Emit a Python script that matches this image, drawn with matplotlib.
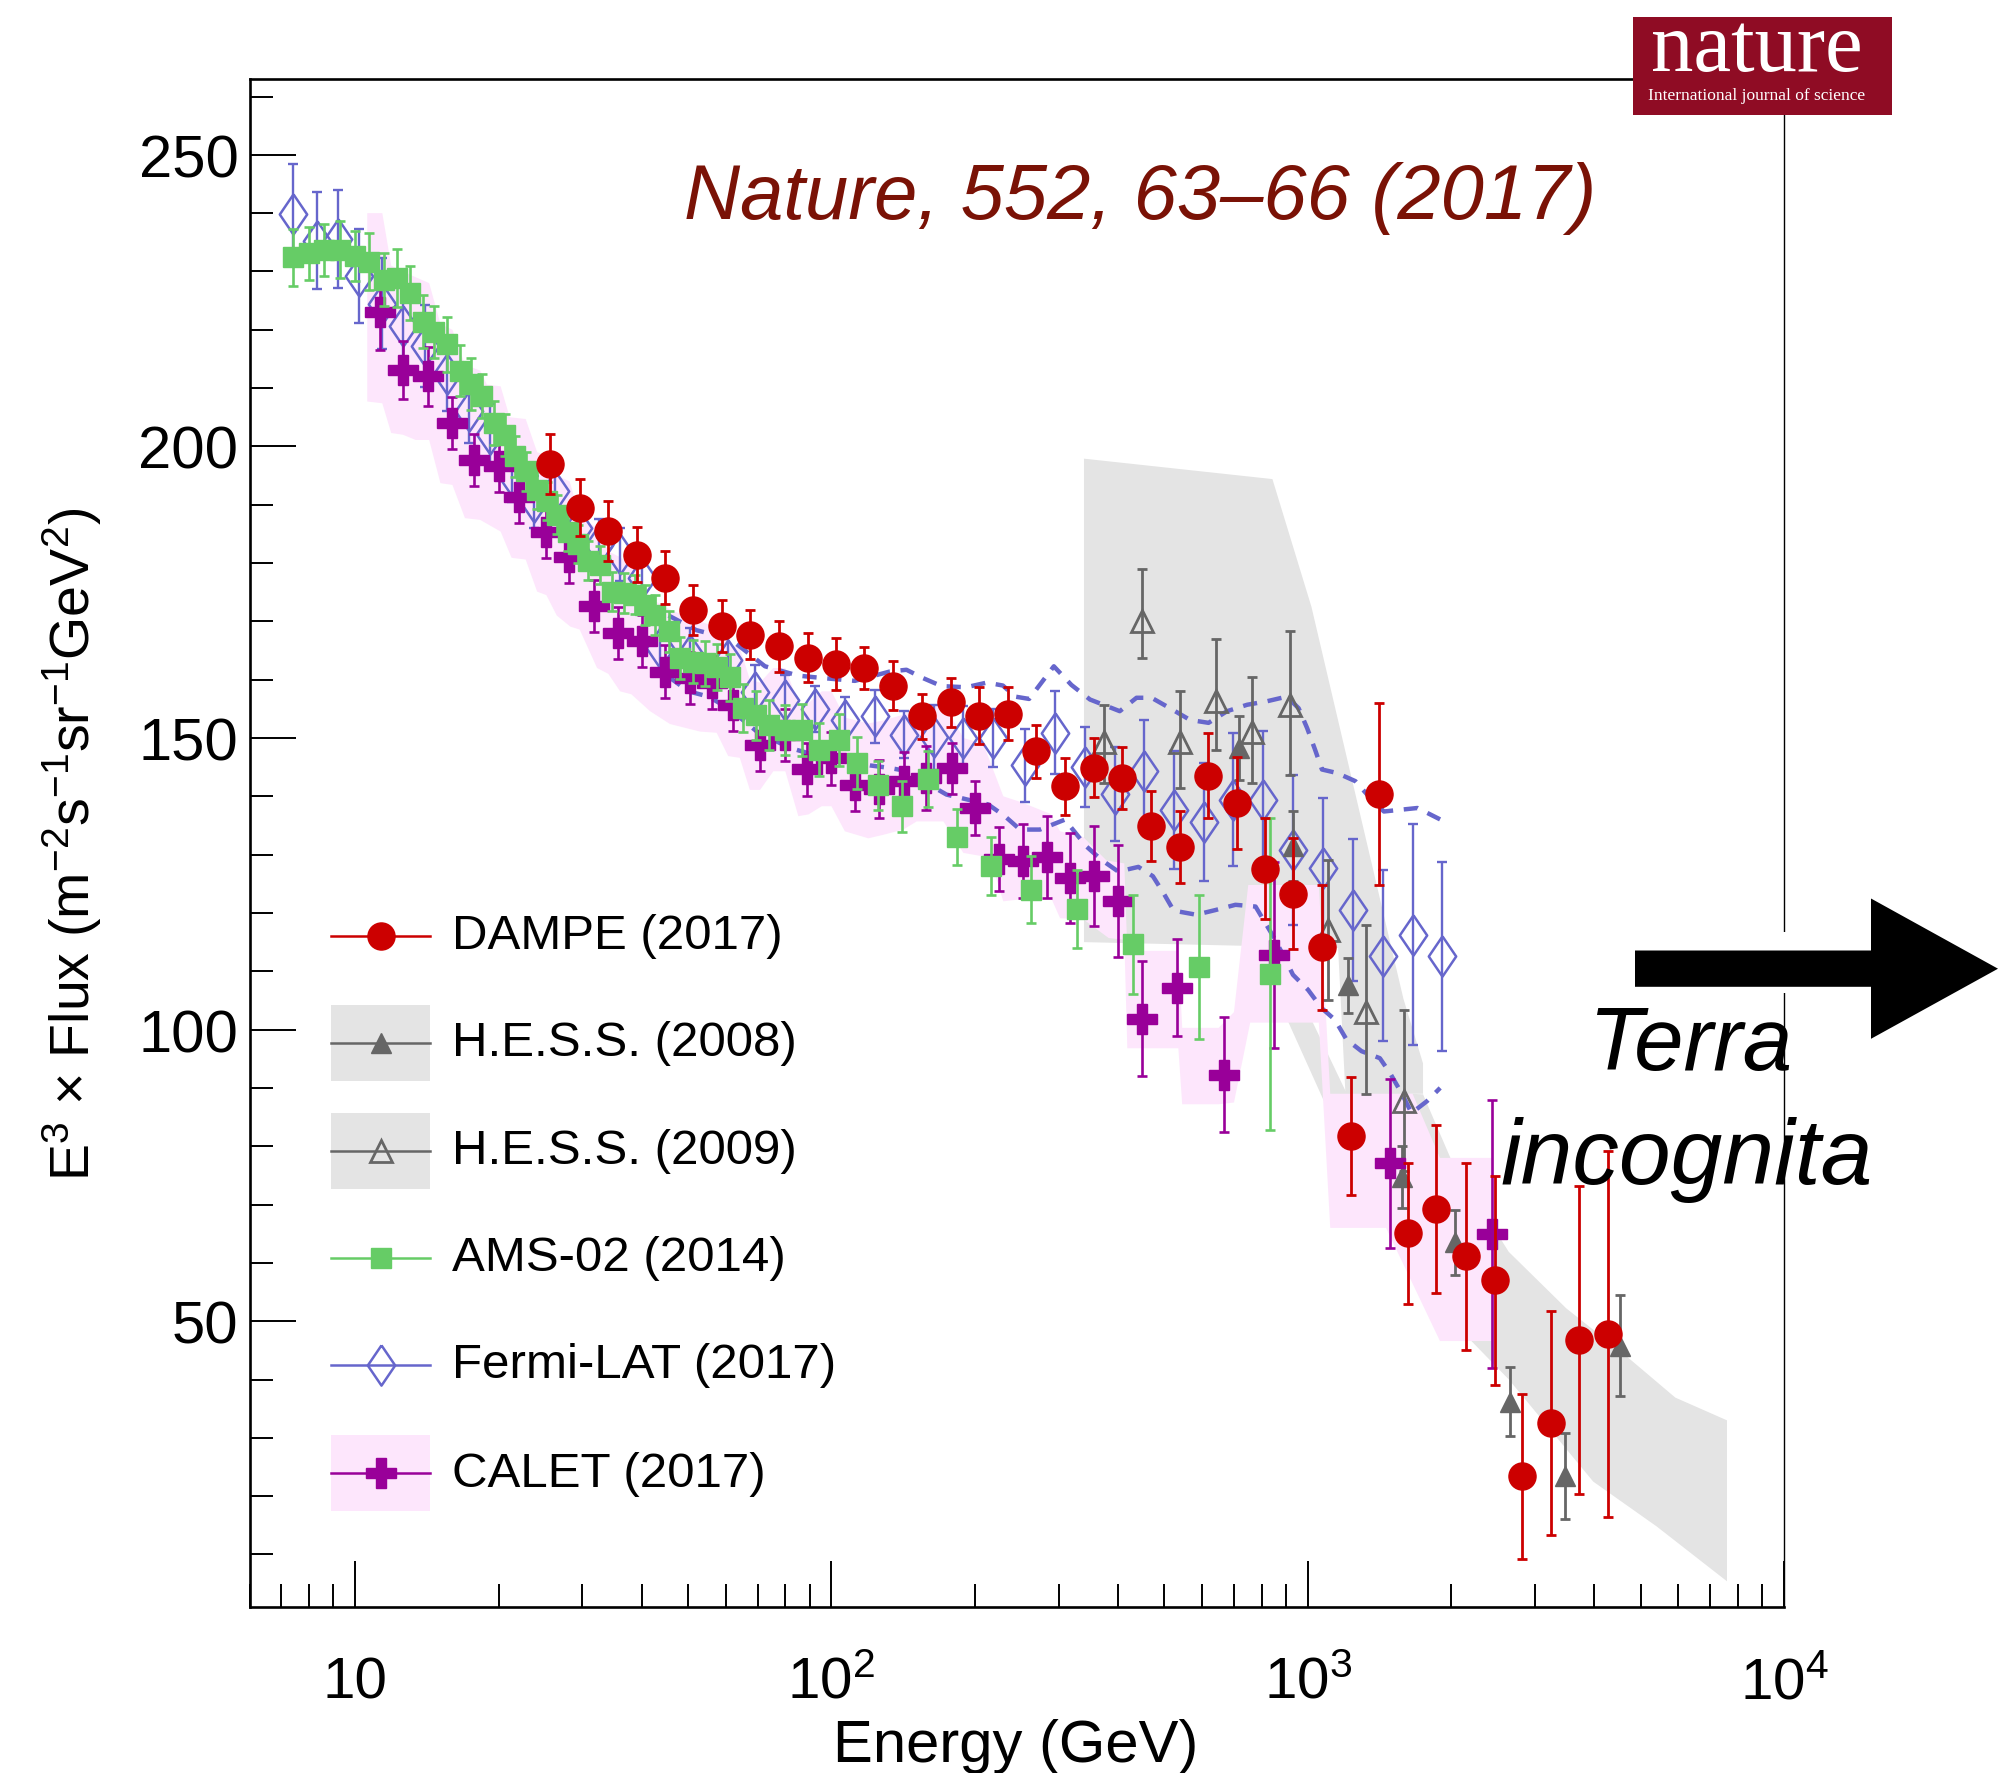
import numpy as np
import matplotlib.pyplot as plt
from matplotlib.lines import Line2D
from matplotlib.patches import Rectangle, Polygon
from matplotlib.ticker import LogLocator, MultipleLocator, NullFormatter
import matplotlib.transforms as mtransforms

plt.rcParams['font.family'] = ['Liberation Sans', 'DejaVu Sans']
plt.rcParams['mathtext.fontset'] = 'custom'
plt.rcParams['mathtext.rm'] = 'Liberation Sans'
plt.rcParams['mathtext.it'] = 'Liberation Sans:italic'
plt.rcParams['mathtext.bf'] = 'Liberation Sans:bold'

# ---- DAMPE (2017) ----
dampe_E = [25.7, 29.6, 33.9, 39.0, 44.7, 51.2, 58.8, 67.6, 77.7, 89.2, 102.4, 117.3, 134.8, 154.9,
           177.9, 203.8, 234.2, 269.4, 309, 356, 408, 469, 538, 618, 709, 813, 933, 1072, 1233,
           1410, 1625, 1862, 2146, 2470, 2818, 3236, 3706, 4262]
dampe_F = [197.0, 189.5, 185.5, 181.4, 177.5, 172.0, 169.2, 167.7, 165.7, 163.8, 162.7, 162.0,
           159.0, 153.7, 156.1, 153.8, 154.2, 147.7, 141.7, 144.9, 143.1, 134.9, 131.3, 143.5,
           138.9, 127.6, 123.3, 114.1, 81.7, 140.4, 65.1, 69.2, 61.1, 57.0, 23.4, 32.5, 46.7, 47.8]
dampe_err = [5.1, 4.9, 5.1, 4.7, 4.5, 4.3, 4.4, 4.2, 4.3, 4.2, 4.4, 3.6, 4.2, 3.8, 4.2, 4.9, 4.6,
             4.6, 4.9, 5.1, 5.3, 6.0, 6.2, 7.3, 7.9, 8.7, 9.5, 10.7, 10.1, 15.6, 12.1, 14.4, 16.0,
             17.9, 14.2, 19.2, 26.4, 31.4]

# ---- H.E.S.S. (2008) ----
hess08_E = [718, 931, 1213, 1580, 2040, 2660, 3470, 4520]
hess08_F = [148.3, 131.4, 107.6, 74.7, 63.5, 36.2, 23.5, 45.8]
hess08_err = [5.5, 6.0, 4.7, 5.3, 5.6, 5.9, 7.4, 8.7]

# ---- H.E.S.S. (2009) ----
hess09_E = [374, 449, 539, 642, 762, 918, 1105, 1323, 1591]
hess09_F = [149.4, 170.0, 149.3, 156.3, 151.0, 155.7, 117.0, 103.0, 87.7]
hess09_lo = [7.1, 6.3, 7.9, 8.3, 8.8, 12.0, 12.0, 14.0, 12.0]
hess09_hi = [6.3, 8.9, 8.8, 10.7, 9.5, 12.6, 12.0, 15.0, 15.7]

# systematic bands of H.E.S.S. (outline vertices)
hess09_band_E = [339, 843, 1018, 1588, 1746, 1746, 1200, 1158, 339]
hess09_band_F = [197.9, 194.4, 172.5, 105.3, 94.2, 89.0, 89.0, 114.0, 115.0]
hess08_band_E = [851, 1200, 1746, 2003, 2642, 3490, 4606, 5912, 7590, 7590, 5404, 3975, 2644,
                 2146, 1578, 1124, 851]
hess08_band_F = [115.0, 89.5, 88.9, 77.6, 61.9, 52.2, 44.4, 36.9, 33.0, 5.4, 14.8, 22.5, 40.0,
                 47.6, 62.9, 84.7, 106.6]

# ---- AMS-02 (2014) ----
ams_E = [7.40, 8.01, 8.62, 9.27, 9.97, 10.70, 11.47, 12.23, 13.05, 13.91, 14.67, 15.62, 16.56,
         17.54, 18.50, 19.57, 20.61, 21.67, 22.85, 24.06, 25.25, 26.58, 27.95, 29.43, 30.88, 32.7,
         34.6, 36.6, 38.7, 40.6, 42.6, 45.5, 48.1, 51.3, 54.3, 57.5, 61.3, 65.2, 69.5, 74.1, 80.0,
         86.7, 94.0, 103.5, 113.3, 125.0, 140.4, 159.2, 183.2, 216.2, 262.3, 327.5, 429.5, 590.8,
         833]
ams_F = [232.4, 233.1, 233.7, 233.7, 232.7, 231.7, 228.6, 228.9, 226.3, 221.4, 219.6, 217.5,
         213.0, 210.7, 208.6, 204.0, 202.0, 198.3, 195.7, 192.6, 190.6, 188.3, 185.4, 183.3,
         180.4, 179.7, 175.1, 174.9, 174.6, 172.8, 171.1, 168.3, 163.7, 163.1, 162.8, 162.2,
         160.4, 155.1, 153.9, 152.3, 151.4, 151.4, 148.0, 149.7, 145.7, 141.9, 138.3, 142.9,
         133.0, 128.0, 124.0, 120.7, 114.6, 110.7, 109.5]
ams_err = [4.9, 4.6, 4.5, 4.9, 4.3, 4.9, 4.6, 5.0, 4.6, 4.6, 4.4, 4.7, 4.4, 4.4, 3.8, 3.8, 3.6,
           3.5, 3.4, 3.3, 3.3, 3.3, 3.3, 3.3, 3.3, 3.3, 3.3, 3.4, 3.4, 3.4, 3.5, 3.5, 3.6, 3.7,
           3.8, 3.9, 4.0, 4.1, 4.2, 4.3, 4.3, 4.4, 4.5, 4.5, 4.5, 4.2, 4.4, 4.8, 4.8, 5.0, 5.7,
           6.7, 8.5, 12.3, 26.7]

# ---- Fermi-LAT (2017) ----
fermi_E = [7.4, 8.3, 9.2, 10.2, 11.4, 12.6, 14.0, 15.6, 17.3, 19.2, 21.3, 23.7, 26.3, 29.3, 32.5,
           36.0, 40.0, 43.7, 50.5, 60.7, 69.0, 79.8, 92.2, 106.6, 123.3, 142.2, 164.1, 189.1,
           218.6, 254.9, 294.6, 340.2, 393.5, 453.6, 523.7, 605.6, 698.2, 807, 933, 1075, 1242,
           1436, 1660, 1918]
fermi_F = [239.8, 235.3, 235.5, 229.2, 224.5, 220.6, 217.2, 212.5, 206.0, 202.2, 195.0, 190.5,
           192.4, 186.0, 183.1, 181.5, 177.5, 165.4, 164.3, 163.4, 157.9, 156.6, 155.0, 153.1,
           153.7, 150.6, 150.1, 150.0, 150.0, 145.3, 150.9, 145.0, 140.4, 144.4, 137.6, 135.6,
           139.4, 139.4, 130.8, 127.7, 120.5, 112.7, 116.3, 112.6]
fermi_err = [8.7, 8.3, 8.4, 8.1, 7.8, 7.5, 7.0, 6.5, 5.5, 5.0, 4.5, 4.5, 4.5, 4.5, 4.5, 4.5, 4.5,
             4.5, 4.5, 4.5, 4.6, 4.2, 3.9, 3.9, 4.6, 4.0, 5.6, 5.5, 4.9, 6.2, 7.1, 6.9, 8.0, 8.7,
             10.1, 10.1, 11.4, 11.8, 12.8, 12.0, 12.1, 14.6, 18.9, 16.2]

# Fermi-LAT systematic envelope (dashed)
fermi_up_E = [45.5, 52, 61.2, 67.5, 72.5, 85.1, 95.3, 112, 132.6, 143.7, 155.4, 170.3, 191.7,
              211.9, 229, 243, 260, 293, 319, 349, 403, 437, 470, 514, 566, 619, 677, 746, 821,
              904, 957, 997, 1036, 1071, 1152, 1259, 1333, 1445, 1567, 1700, 1901]
fermi_up_F = [171.0, 168.5, 167.0, 164.3, 162.3, 160.7, 160.3, 159.8, 161.4, 161.7, 160.3,
              158.9, 158.7, 159.5, 159.0, 157.1, 156.7, 162.3, 159.1, 156.6, 154.6, 156.9, 156.9,
              155.1, 153.1, 152.6, 154.6, 155.7, 156.3, 157.1, 155.1, 151.7, 148.0, 144.6, 144.0,
              142.6, 140.3, 137.4, 137.7, 138.0, 136.0]
fermi_lo_E = [45.5, 50.1, 55.2, 61, 70, 81.8, 93.9, 120.4, 131.6, 144.9, 159.6, 174.4, 213.4,
              231.2, 248.8, 274, 309, 343, 369, 400, 441, 473, 498, 523, 583, 640, 705, 777, 842,
              888, 931, 1002, 1069, 1140, 1206, 1297, 1417, 1487, 1574, 1652, 1778, 1897]
fermi_lo_F = [160.5, 158.0, 157.1, 155.0, 151.0, 148.3, 146.9, 145.3, 144.9, 144.3, 142.1, 140.3,
              138.6, 136.6, 134.3, 134.3, 136.0, 131.4, 129.1, 127.1, 127.9, 126.3, 123.4, 120.4,
              119.7, 120.5, 121.4, 121.1, 116.3, 112.8, 109.4, 106.8, 103.7, 101.7, 98.3, 96.3,
              95.1, 92.6, 89.1, 85.7, 87.7, 90.0]

# ---- CALET (2017) ----
calet_E = [11.3, 12.6, 14.2, 16.0, 17.8, 20.0, 22.1, 25.1, 28.1, 31.7, 35.7, 40.0, 44.7, 50.5,
           56.0, 62.2, 70.8, 80.0, 88.8, 100, 112, 126, 142, 158, 179, 200, 225, 252, 283, 317,
           356, 400, 448, 531, 667, 851, 1490, 2440]
calet_F = [223.0, 213.1, 212.0, 204.0, 197.7, 196.6, 191.3, 185.3, 181.1, 172.6, 168.0, 166.6,
           161.4, 160.3, 159.5, 155.7, 148.8, 150.5, 144.6, 146.5, 141.9, 141.3, 142.6, 143.2,
           144.8, 138.0, 129.2, 128.9, 129.6, 126.0, 126.3, 122.1, 101.9, 107.2, 92.3, 112.8,
           77.1, 65.0]
calet_err = [6.5, 5.0, 5.0, 4.5, 4.5, 4.5, 4.5, 4.5, 4.5, 4.5, 4.5, 4.5, 4.5, 4.5, 4.5, 4.5, 4.5,
             4.5, 4.5, 4.5, 4.5, 5.0, 5.0, 5.5, 4.4, 4.7, 5.5, 6.3, 7.0, 7.7, 8.6, 9.6, 9.8, 8.3,
             9.8, 16.0, 14.5, 23.0]

# CALET systematic band (upper / lower outline)
calet_up_E = [10.6, 11.4, 11.9, 12.6, 13.4, 14.3, 15.1, 16.0, 17.0, 18.3, 18.9, 20.2, 21.1, 22.8,
              24.1, 25.2, 26.5, 28.2, 29.6, 32.2, 34.0, 36.0, 38.0, 41.6, 45.8, 53.0, 57.4, 60.7,
              64.2, 67.4, 70.8, 75.5, 80.0, 85.2, 89.5, 95.4, 100, 106.7, 119.5, 128.4, 141.5,
              151, 171.8, 189.2, 208.4, 229.5, 250, 288, 302, 338, 378, 412, 418, 535, 545, 650,
              700, 750, 1055, 1115, 1660, 1895, 2433]
calet_up_F = [240.0, 240.0, 231.0, 230.0, 229.0, 228.0, 221.0, 220.0, 214.0, 213.0, 210.6, 210.3,
              205.0, 204.7, 199.0, 198.5, 195.0, 194.0, 188.0, 186.0, 182.0, 181.0, 179.5, 174.0,
              172.0, 170.0, 169.0, 166.0, 165.5, 160.0, 159.5, 162.0, 162.0, 156.0, 156.0, 158.0,
              158.0, 153.5, 152.5, 153.0, 154.0, 155.0, 156.0, 150.0, 149.0, 140.0, 139.0, 137.0,
              134.0, 133.0, 129.0, 128.5, 113.5, 113.5, 100.3, 100.3, 103.0, 124.8, 124.8, 89.0,
              89.0, 78.0, 78.0]
calet_lo_E = [10.6, 11.4, 11.9, 12.6, 13.4, 14.3, 15.1, 16.0, 17.0, 18.3, 20.2, 21.3, 22.8, 24.1,
              25.2, 26.5, 28.3, 29.6, 32.2, 34.0, 36.0, 38.0, 41.6, 45.8, 53.0, 57.4, 60.7, 64.2,
              67.4, 70.8, 75.5, 80.0, 85.2, 89.5, 95.4, 100, 106.7, 119.5, 128.4, 141.5, 151,
              171.8, 189.2, 208.4, 215, 229.5, 288, 302, 338, 382, 412, 418, 535, 545, 650, 700,
              757, 1055, 1115, 1460, 1895, 2433]
calet_lo_F = [207.7, 207.4, 202.3, 202.0, 201.1, 201.1, 193.7, 193.4, 187.7, 187.4, 185.4, 180.9,
              180.6, 175.1, 174.5, 171.0, 169.1, 168.6, 162.0, 161.0, 158.0, 157.5, 154.6, 152.4,
              151.1, 150.9, 146.9, 146.6, 141.1, 141.1, 144.3, 144.3, 136.6, 136.9, 138.3, 138.3,
              134.0, 132.8, 133.4, 134.3, 135.7, 135.7, 130.3, 129.7, 129.5, 122.0, 122.9, 119.1,
              118.9, 115.7, 115.4, 96.8, 96.8, 87.2, 87.2, 87.5, 101.2, 101.2, 66.0, 66.0, 46.6,
              46.6]

RED = '#cc0000'
GREY = '#666666'
BAND = '#e4e4e4'
GREEN = '#66cc66'
BLUE = '#6666cc'
PURPLE = '#990099'
PINK = '#fde6fc'

fig = plt.figure(figsize=(19.98, 17.74), dpi=100)
ax = fig.add_axes([0.1249, 0.0936, 0.768, 0.8613])
ax.set_xscale('log')
ax.set_xlim(6.0, 1e4)
ax.set_ylim(1.0, 263.0)

# bands
ax.fill(hess09_band_E, hess09_band_F, color=BAND, lw=0, zorder=1)
ax.fill(hess08_band_E, hess08_band_F, color=BAND, lw=0, zorder=1)
ax.fill(calet_up_E + calet_lo_E[::-1], calet_up_F + calet_lo_F[::-1], color=PINK, lw=0, zorder=2)
ax.plot(fermi_up_E, fermi_up_F, color=BLUE, lw=3.2, ls=(0, (3.2, 2.4)), zorder=3)
ax.plot(fermi_lo_E, fermi_lo_F, color=BLUE, lw=3.2, ls=(0, (3.2, 2.4)), zorder=3)

diamond = [(0, 1), (0.68, 0), (0, -1), (-0.68, 0), (0, 1)]

ax.errorbar(fermi_E, fermi_F, yerr=fermi_err, fmt='none', ecolor=BLUE, elinewidth=1.7,
            capsize=3.8, capthick=1.7, zorder=4)
ax.plot(fermi_E, fermi_F, ls='none', marker=diamond, ms=29, mfc='none', mec=BLUE, mew=1.8,
        zorder=4)

ax.errorbar(hess09_E, hess09_F, yerr=[hess09_lo, hess09_hi], fmt='^', ms=16, mfc='none',
            mec=GREY, mew=2.0, ecolor=GREY, elinewidth=2.0, capsize=3.8, capthick=2.0, zorder=5)
ax.errorbar(hess08_E, hess08_F, yerr=hess08_err, fmt='^', ms=14, color=GREY, ecolor=GREY,
            elinewidth=2.0, capsize=3.8, capthick=2.0, zorder=5)

ax.errorbar(calet_E, calet_F, yerr=calet_err, fmt='P', ms=21, color=PURPLE, ecolor=PURPLE,
            elinewidth=1.9, capsize=3.8, capthick=1.9, zorder=6)

ax.errorbar(ams_E, ams_F, yerr=ams_err, fmt='s', ms=15, color=GREEN, ecolor=GREEN,
            elinewidth=1.9, capsize=3.8, capthick=1.9, zorder=7)

ax.errorbar(dampe_E, dampe_F, yerr=dampe_err, fmt='o', ms=19.5, color=RED, ecolor=RED,
            elinewidth=2.0, capsize=3.8, capthick=2.0, zorder=8)

# axes styling
for side in ['left', 'bottom', 'top']:
    ax.spines[side].set_linewidth(1.9)
ax.spines['right'].set_linewidth(1.0)
ax.yaxis.set_major_locator(MultipleLocator(50))
ax.yaxis.set_minor_locator(MultipleLocator(10))
ax.set_xticks([10, 100, 1000, 10000])
ax.xaxis.set_minor_locator(LogLocator(base=10, subs=np.arange(2, 10)))
ax.xaxis.set_minor_formatter(NullFormatter())
ax.tick_params(which='both', direction='in', top=False, right=False, width=1.4)
ax.tick_params(which='major', length=33)
ax.tick_params(which='minor', length=16.5)
ax.tick_params(axis='y', labelsize=43, pad=8)
ax.tick_params(axis='x', labelbottom=False)

xlab_tr = mtransforms.blended_transform_factory(ax.transData, ax.transAxes)
for e, lab in [(10, '10'), (100, r'$\mathregular{10^{2}}$'), (1000, r'$\mathregular{10^{3}}$'),
               (10000, r'$\mathregular{10^{4}}$')]:
    ax.text(e, -0.0592, lab, transform=xlab_tr, ha='center', va='baseline', fontsize=42,
            clip_on=False)

fig.text(0.5083, 0.0068, 'Energy (GeV)', ha='center', va='baseline', fontsize=43)
fig.text(0.036, 0.5242, r'E$^{3}$ × Flux (m$^{-2}$s$^{-1}$sr$^{-1}$GeV$^{2}$)', rotation=90,
         ha='center', va='center', fontsize=40)

# legend
rows = [0.4394, 0.3693, 0.2985, 0.2284, 0.1584, 0.0876]
labels = ['DAMPE (2017)', 'H.E.S.S. (2008)', 'H.E.S.S. (2009)', 'AMS-02 (2014)',
          'Fermi-LAT (2017)', 'CALET (2017)']
x0, x1, xc, xt = 0.0531, 0.1176, 0.0854, 0.132
boxh = 0.0497
for yy, fill in [(rows[1], BAND), (rows[2], BAND), (rows[5], PINK)]:
    ax.add_patch(Rectangle((x0, yy - boxh / 2), x1 - x0, boxh, transform=ax.transAxes,
                           facecolor=fill, edgecolor='none', zorder=9))
handles = [
    (RED, dict(marker='o', ms=19.5, mfc=RED, mec=RED)),
    (GREY, dict(marker='^', ms=14, mfc=GREY, mec=GREY)),
    (GREY, dict(marker='^', ms=16, mfc='none', mec=GREY, mew=2.0)),
    (GREEN, dict(marker='s', ms=15, mfc=GREEN, mec=GREEN)),
    (BLUE, dict(marker=diamond, ms=29, mfc='none', mec=BLUE, mew=1.8)),
    (PURPLE, dict(marker='P', ms=21, mfc=PURPLE, mec=PURPLE)),
]
for yy, lab, (col, mk) in zip(rows, labels, handles):
    ax.add_line(Line2D([x0, x1], [yy, yy], transform=ax.transAxes, color=col, lw=1.8, zorder=10))
    ax.add_line(Line2D([xc], [yy], transform=ax.transAxes, ls='none', zorder=11, **mk))
    ax.text(xt, yy, lab, transform=ax.transAxes, ha='left', va='center', fontsize=35.5, zorder=11)

# reference title
fig.text(0.5708, 0.8766, 'Nature, 552, 63–66 (2017)', ha='center', va='baseline', fontsize=56,
         style='italic', color='#7a1206')

# journal badge
fig.add_artist(Rectangle((0.8173, 0.9348), 0.1296, 0.0551, transform=fig.transFigure,
                         facecolor='#8f0c24', edgecolor='none', zorder=20))
fig.text(0.8791, 0.9600, 'nature', ha='center', va='baseline', fontsize=61, color='white',
         family='Liberation Serif', zorder=21)
fig.text(0.8794, 0.9438, 'International journal of science', ha='center', va='baseline',
         fontsize=12.5, color='white', family='Liberation Serif', zorder=21)

# arrow pointing to higher energies
W, H = 1998.0, 1774.0
arrow_px = [(1635, 951.5), (1871, 951.5), (1871, 899.5), (1998, 969.7), (1871, 1039.8),
            (1871, 987.8), (1635, 987.8)]
fig.add_artist(Rectangle((1775 / W, 1 - 994 / H), 20 / W, 61 / H, transform=fig.transFigure,
                         facecolor='white', edgecolor='none', zorder=19))
fig.add_artist(Polygon([(x / W, 1 - y / H) for x, y in arrow_px], closed=True,
                       transform=fig.transFigure, facecolor='black', edgecolor='none', zorder=20))
fig.text(0.8458, 0.3968, 'Terra', ha='center', va='baseline', fontsize=64, style='italic',
         zorder=21)
fig.text(0.8443, 0.3326, 'incognita', ha='center', va='baseline', fontsize=67, style='italic',
         zorder=21)

fig.savefig('out.png', dpi=100)
